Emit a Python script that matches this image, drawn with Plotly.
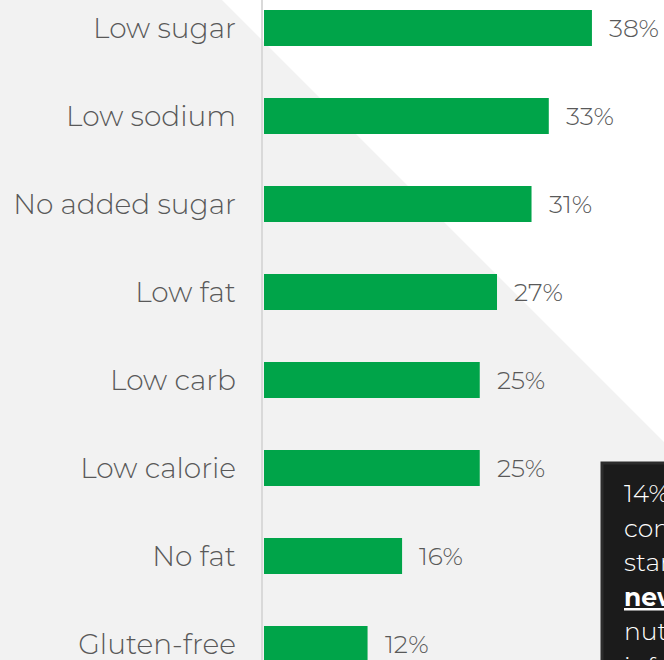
import plotly.graph_objects as go

# Claims shown on packaging and share of shoppers who look for them
claims = ["Low sugar", "Low sodium", "No added sugar", "Low fat",
          "Low carb", "Low calorie", "No fat", "Gluten-free"]
shares = [38, 33, 31, 27, 25, 25, 16, 12]

callout_lines = ["14% of", "consumers", "started to", "<b><u>new</u></b> on", "nutrition", "information"]

W, H = 664, 660
PLOT_LEFT = 264
PLOT_W = W - PLOT_LEFT
PX_PER_PCT = 8.63
ROW = 88.0
FIRST_ROW = 28.0

FONT = "Montserrat, Inter, 'Open Sans', sans-serif"
GRAY_TEXT = "#595959"
GREEN = "#00A449"


def px_x(px):
    return (px - PLOT_LEFT) / PLOT_W


def px_y(py):
    return 1 - py / H


fig = go.Figure()
fig.add_trace(go.Bar(
    x=shares, y=claims, orientation="h",
    marker=dict(color=GREEN, line=dict(width=0)),
    width=36 / ROW, hoverinfo="skip",
))

# value labels to the right of each bar
for c, v in zip(claims, shares):
    fig.add_annotation(x=v, y=c, xref="x", yref="y", text=f"{v}%",
                       showarrow=False, xanchor="left", yanchor="middle",
                       xshift=15, font=dict(family=FONT, size=25, weight=300, color=GRAY_TEXT))

shapes = [
    # white diagonal wedge across the top right
    dict(type="path", xref="paper", yref="paper", layer="below",
         path=f"M {px_x(222)} 1 L {px_x(700)} 1 L {px_x(700)} {px_y(478)} Z",
         fillcolor="white", line=dict(width=0)),
    # category axis line
    dict(type="line", xref="paper", yref="paper", layer="above",
         x0=px_x(262), x1=px_x(262), y0=-0.05, y1=1.05,
         line=dict(color="#d9d9d9", width=2)),
    # dark callout panel
    dict(type="rect", xref="paper", yref="paper", layer="above",
         x0=px_x(602), x1=px_x(720), y0=px_y(463), y1=px_y(720),
         fillcolor="#1b1b1b", line=dict(color="#2c2c2c", width=3)),
]

for i, line in enumerate(callout_lines):
    fig.add_annotation(x=px_x(622), y=px_y(493 + 34.6 * i), xref="paper", yref="paper",
                       text=line, showarrow=False, xanchor="left", yanchor="middle",
                       font=dict(family=FONT, size=25, weight=300, color="white"))

y0 = -FIRST_ROW / ROW
fig.update_layout(
    width=W, height=H,
    margin=dict(l=PLOT_LEFT, r=0, t=0, b=0, pad=0),
    paper_bgcolor="#f2f2f2", plot_bgcolor="rgba(0,0,0,0)",
    showlegend=False, shapes=shapes,
    xaxis=dict(range=[0, PLOT_W / PX_PER_PCT], visible=False, fixedrange=True),
    yaxis=dict(categoryorder="array", categoryarray=claims,
               range=[y0 + H / ROW, y0], showgrid=False, zeroline=False,
               showline=False, ticks="", ticklabelstandoff=27,
               tickfont=dict(family=FONT, size=28, weight=300, color=GRAY_TEXT), fixedrange=True),
)

fig.write_html("out.html", config={"displayModeBar": False})
